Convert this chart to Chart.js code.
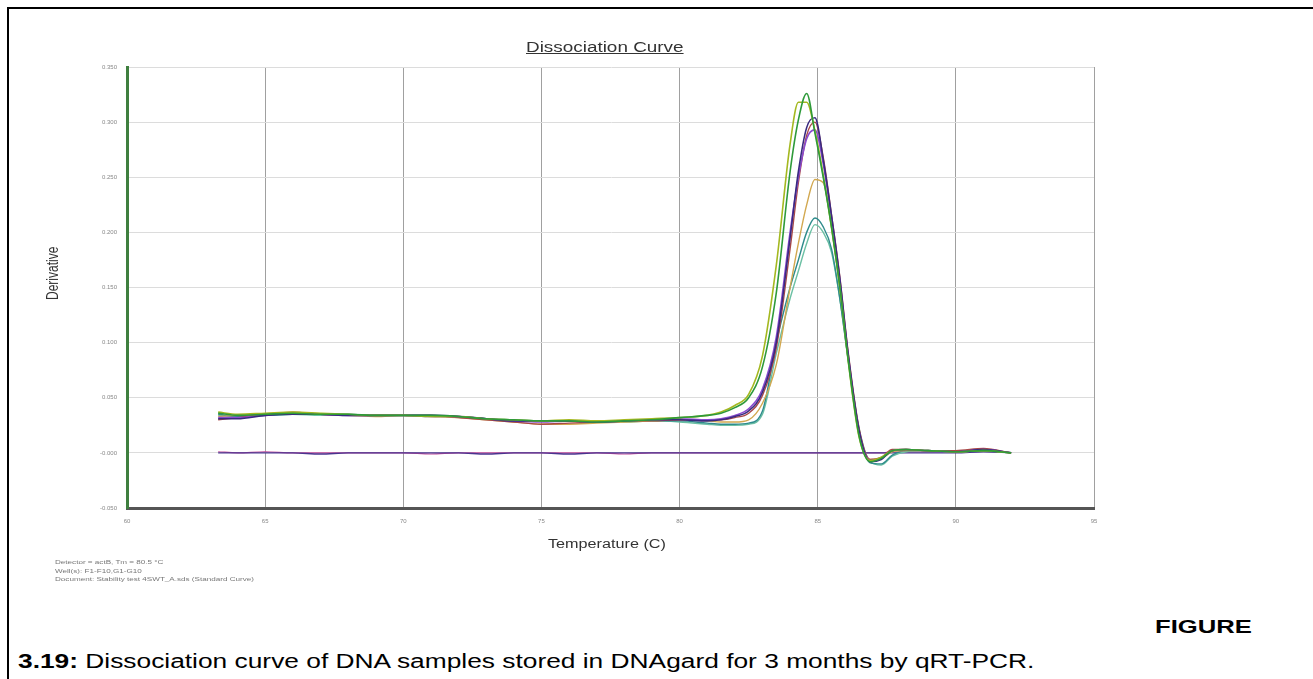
<!DOCTYPE html>
<html>
<head>
<meta charset="utf-8">
<script src="https://cdn.jsdelivr.net/npm/chart.js@4.4.1/dist/chart.umd.min.js"></script>
<style>
  html, body { margin: 0; padding: 0; background: #fff; width: 1313px; height: 679px; overflow: hidden;
    font-family: "Liberation Sans", Arial, sans-serif; }
  #frame { position: absolute; left: 7px; top: 7px; width: 1320px; height: 700px;
    border-top: 2px solid #000; border-left: 2px solid #000; }
  #wrap { position: absolute; left: 0; top: 0; width: 1313px; height: 600px; }
  /* the source picture is stretched sideways, so every label is widened the same way */
  .wide { position: absolute; white-space: nowrap; transform-origin: 0 0; transform: scaleX(1.35); }
  #title { left: 526px; top: 39px; font-size: 14px; color: #333; text-decoration: underline; }
  #xlab { left: 548px; top: 537px; font-size: 12px; color: #333; }
  #ylab { position: absolute; left: 44px; top: 300px; font-size: 12px; color: #333; white-space: nowrap;
    transform-origin: 0 0; transform: rotate(-90deg) scale(1, 1.3); }
  #notes { left: 55px; top: 558px; font-size: 6px; line-height: 8.5px; color: #777; }
  #fig { left: 1155px; top: 616px; font-size: 19px; font-weight: bold; color: #000; }
  #cap { left: 18px; top: 650px; font-size: 19.5px; color: #000; }
</style>
</head>
<body>
<div id="frame"></div>
<div id="wrap"><canvas id="c"></canvas></div>
<div id="title" class="wide">Dissociation Curve</div>
<div id="xlab" class="wide">Temperature (C)</div>
<div id="ylab">Derivative</div>
<div id="notes" class="wide">Detector = actB, Tm = 80.5 °C<br>Well(s): F1-F10,G1-G10<br>Document: Stability test 4SWT_A.sds (Standard Curve)</div>
<div id="fig" class="wide">FIGURE</div>
<div id="cap" class="wide"><b>3.19:</b> Dissociation curve of DNA samples stored in DNAgard for 3 months by qRT-PCR.</div>
<script>
// temperature (C) of each reading
var temps = [63.3, 64, 65, 66, 67, 68, 69, 70, 71, 72, 73, 74, 75, 76, 77, 78, 79, 80, 81,
  81.5, 82, 82.5, 83, 83.5, 84, 84.3, 84.6, 84.9, 85.2, 85.5, 85.8, 86.1, 86.5, 86.9, 87.3, 87.7, 88.2, 89, 90, 91, 92];

var wellGreen = [0.036, 0.034, 0.035, 0.036, 0.035, 0.035, 0.034, 0.034, 0.034, 0.033, 0.031, 0.030, 0.029, 0.029, 0.028, 0.029, 0.030, 0.032, 0.034,
  0.036, 0.041, 0.050, 0.078, 0.145, 0.255, 0.302, 0.326, 0.290, 0.250, 0.205, 0.151, 0.085, 0.015, -0.008, -0.005, 0.002, 0.003, 0.002, 0.001, 0.002, 0.000];
var wellOlive = [0.037, 0.035, 0.036, 0.037, 0.036, 0.035, 0.034, 0.034, 0.033, 0.033, 0.031, 0.030, 0.029, 0.030, 0.029, 0.030, 0.031, 0.032, 0.034,
  0.037, 0.043, 0.053, 0.088, 0.170, 0.280, 0.318, 0.318, 0.292, 0.252, 0.204, 0.150, 0.084, 0.014, -0.007, -0.004, 0.002, 0.003, 0.002, 0.001, 0.002, 0.000];
var wellNavy = [0.031, 0.031, 0.034, 0.035, 0.035, 0.034, 0.034, 0.034, 0.034, 0.033, 0.031, 0.029, 0.029, 0.029, 0.028, 0.029, 0.030, 0.030, 0.029,
  0.030, 0.033, 0.038, 0.055, 0.100, 0.195, 0.255, 0.295, 0.304, 0.266, 0.215, 0.158, 0.090, 0.020, -0.008, -0.006, 0.002, 0.003, 0.002, 0.001, 0.003, 0.000];
var wellPurple = [0.032, 0.032, 0.034, 0.036, 0.035, 0.034, 0.034, 0.034, 0.033, 0.033, 0.031, 0.029, 0.028, 0.029, 0.028, 0.029, 0.030, 0.031, 0.030,
  0.031, 0.034, 0.040, 0.058, 0.105, 0.200, 0.250, 0.285, 0.293, 0.262, 0.212, 0.156, 0.088, 0.019, -0.007, -0.005, 0.002, 0.003, 0.002, 0.001, 0.003, 0.000];
var wellBrown = [0.030, 0.032, 0.035, 0.037, 0.035, 0.034, 0.034, 0.034, 0.034, 0.032, 0.030, 0.028, 0.026, 0.027, 0.028, 0.029, 0.029, 0.030, 0.030,
  0.030, 0.032, 0.036, 0.052, 0.095, 0.185, 0.245, 0.288, 0.300, 0.268, 0.216, 0.160, 0.092, 0.022, -0.006, -0.004, 0.003, 0.003, 0.002, 0.002, 0.004, 0.000];
var wellTan = [0.033, 0.034, 0.035, 0.036, 0.035, 0.034, 0.033, 0.034, 0.033, 0.032, 0.030, 0.028, 0.026, 0.026, 0.027, 0.028, 0.029, 0.030, 0.029,
  0.028, 0.028, 0.030, 0.045, 0.080, 0.150, 0.190, 0.225, 0.248, 0.245, 0.205, 0.150, 0.088, 0.018, -0.006, -0.005, 0.001, 0.002, 0.002, 0.001, 0.002, 0.000];
var wellTeal = [0.035, 0.033, 0.034, 0.035, 0.035, 0.035, 0.034, 0.034, 0.034, 0.033, 0.031, 0.029, 0.029, 0.029, 0.028, 0.029, 0.029, 0.029, 0.027,
  0.026, 0.026, 0.027, 0.038, 0.100, 0.150, 0.175, 0.200, 0.213, 0.205, 0.185, 0.140, 0.085, 0.020, -0.009, -0.010, -0.002, 0.002, 0.002, 0.001, 0.002, 0.000];
var wellSea = [0.034, 0.033, 0.034, 0.035, 0.034, 0.034, 0.034, 0.034, 0.034, 0.033, 0.031, 0.030, 0.029, 0.029, 0.028, 0.028, 0.029, 0.028, 0.026,
  0.025, 0.025, 0.026, 0.035, 0.090, 0.140, 0.165, 0.190, 0.207, 0.200, 0.182, 0.140, 0.086, 0.022, -0.008, -0.011, -0.003, 0.001, 0.002, 0.001, 0.002, 0.000];
// no-template controls, flat at zero
var ntcA = [0.000, 0.000, 0.000, 0.000, -0.001, 0.000, 0.000, 0.000, 0.000, 0.000, -0.001, 0.000, 0.000, -0.001, 0.000, 0.000, 0.000, 0.000, 0.000,
  0.000, 0.000, 0.000, 0.000, 0.000, 0.000, 0.000, 0.000, 0.000, 0.000, 0.000, 0.000, 0.000, 0.000, 0.000, 0.000, 0.000, 0.000, 0.000, 0.000, 0.001, 0.000];
var ntcB = [0.001, 0.000, 0.001, 0.000, 0.000, 0.000, 0.000, 0.000, -0.001, 0.000, 0.000, 0.000, 0.000, 0.000, 0.000, -0.001, 0.000, 0.000, 0.000,
  0.000, 0.000, 0.000, 0.000, 0.000, 0.000, 0.000, 0.000, 0.000, 0.000, 0.000, 0.000, 0.000, 0.000, 0.000, 0.000, 0.001, 0.001, 0.001, 0.001, 0.002, 0.000];

var xTicks = [60, 65, 70, 75, 80, 85, 90, 95];

function pts(arr) {
  return temps.map(function (t, i) { return { x: t, y: arr[i] }; });
}
function line(arr, color, w) {
  return { data: pts(arr), borderColor: color, backgroundColor: color, borderWidth: w || 1.4,
    pointRadius: 0, cubicInterpolationMode: "monotone", fill: false };
}

// first dataset ends up on top
var datasets = [
  line(wellGreen, "#2e9a3a", 1.6),
  line(wellOlive, "#a4b820", 1.6),
  line(wellNavy, "#3a2a80", 1.6),
  line(wellPurple, "#8a4ad0", 1.6),
  line(wellBrown, "#a84848"),
  line(wellTan, "#d2a850"),
  line(wellTeal, "#2f8c8c"),
  line(wellSea, "#6cc0a4"),
  line(ntcA, "#4a3490", 1.4),
  line(ntcB, "#c04a9a", 1.2)
];

new Chart(document.getElementById("c"), {
  type: "line",
  data: { datasets: datasets },
  options: {
    responsive: true, maintainAspectRatio: false, animation: false,
    layout: { padding: { left: 38, right: 219, top: 67, bottom: 44 } },
    plugins: { legend: { display: false }, tooltip: { enabled: false }, title: { display: false } },
    scales: {
      x: {
        type: "linear", min: 60, max: 95,
        afterBuildTicks: function (s) { s.ticks = xTicks.map(function (v) { return { value: v }; }); },
        afterFit: function (s) { s.height = 48; },
        ticks: { font: { size: 6 }, color: "#888", padding: 10, maxRotation: 0 },
        grid: { color: "#a0a0a0", lineWidth: 1, drawTicks: false },
        border: { color: "#555", width: 3 }
      },
      y: {
        min: -0.05, max: 0.35,
        ticks: { stepSize: 0.05, font: { size: 6 }, color: "#888", padding: 10,
          callback: function (v) { return v.toFixed(3); } },
        afterFit: function (s) { s.width = 89; },
        grid: { color: "#dcdcdc", lineWidth: 1, drawTicks: false },
        border: { color: "#3f7f3f", width: 3 }
      }
    }
  }
});
</script>
</body>
</html>
